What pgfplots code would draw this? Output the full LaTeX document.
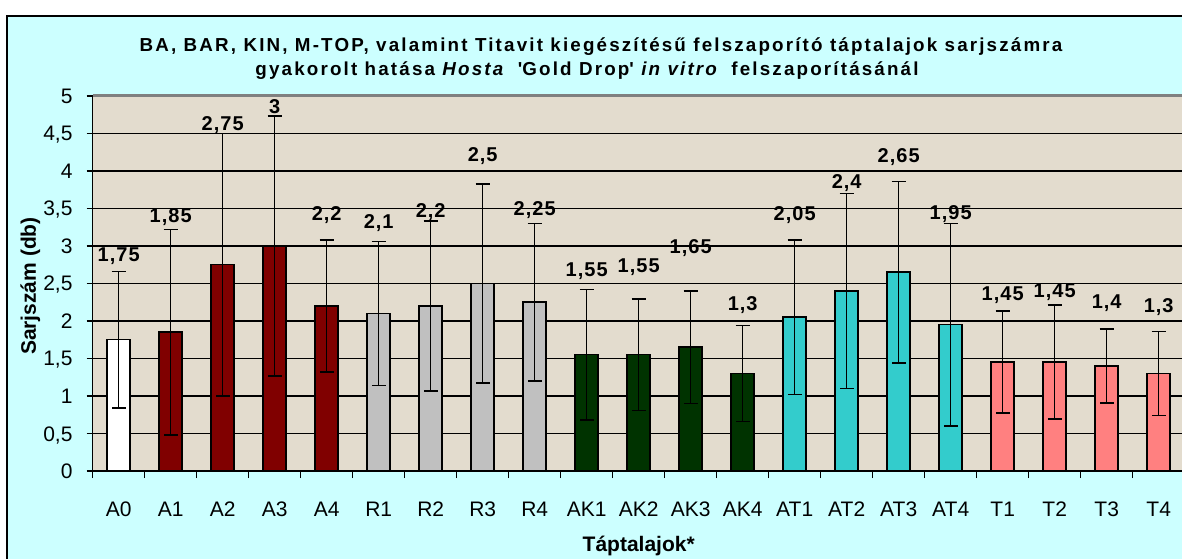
\documentclass[border=0pt]{standalone}
\usepackage{pgfplots}
\usepackage{pgfplotstable}
\pgfplotsset{compat=1.18}
\usepackage{fontspec}
\setmainfont{Liberation Sans}
\newfontfamily\titlefont{Liberation Sans}[LetterSpace=11.5]
\newfontfamily\labfont{Liberation Sans}[LetterSpace=5]
\definecolor{bgcyan}{HTML}{CCFFFF}
\definecolor{plotbg}{HTML}{E3DCCE}
\definecolor{cA}{HTML}{800000}
\definecolor{cR}{HTML}{C0C0C0}
\definecolor{cAK}{HTML}{003300}
\definecolor{cAT}{HTML}{33CCCC}
\definecolor{cT}{HTML}{FF8080}
\pgfplotstableread{
x ly lab
0 2.87 1,75
1 3.38 1,85
2 4.61 2,75
3 4.86 3
4 3.41 2,2
5 3.30 2,1
6 3.45 2,2
7 4.20 2,5
8 3.48 2,25
9 2.66 1,55
10 2.72 1,55
11 2.97 1,65
12 2.21 1,3
13 3.41 2,05
14 3.84 2,4
15 4.19 2,65
16 3.43 1,95
17 2.34 1,45
18 2.39 1,45
19 2.24 1,4
20 2.19 1,3
}\labeltable
\begin{document}
\begin{tikzpicture}
\useasboundingbox (0,0) rectangle (1182bp,559bp);
\clip (0,0) rectangle (1182bp,559bp);
\fill[white] (0,0) rectangle (1182bp,559bp);
\filldraw[fill=bgcyan, draw=black, line width=2.2bp] (7bp,-20bp) rectangle (1215bp,543bp);
\node[anchor=base, font=\titlefont\fontsize{18.8bp}{22bp}\selectfont\bfseries] at (601bp,507bp)
  {BA, BAR, KIN, M-TOP, valamint Titavit kiegészítésű felszaporító táptalajok sarjszámra};
\node[anchor=base, font=\titlefont\fontsize{18.8bp}{22bp}\selectfont\bfseries] at (587bp,483bp)
  {gyakorolt hatása \textit{Hosta}\hspace{5bp} \textquotesingle Gold Drop\textquotesingle{} \textit{in vitro}\hspace{5bp} felszaporításánál};
\begin{axis}[
  at={(92.7bp,88bp)}, anchor=south west,
  scale only axis, width=1092bp, height=375bp,
  xmin=-0.5, xmax=20.5, ymin=0, ymax=5,
  axis background/.style={fill=plotbg},
  ybar, bar width=23bp,
  axis line style={black, line width=1.5bp},
  axis x line*=bottom, axis y line*=left,
  tick align=outside,
  ymajorgrids, grid style={black, line width=1.5bp},
  ytick={0,0.5,...,4.5},
  extra y ticks={5}, extra y tick labels={5}, extra y tick style={grid=none},
  /pgf/number format/use comma,
  /pgf/number format/assume math mode=true,
  yticklabel style={anchor=base east, inner sep=0pt, xshift=-14bp, yshift=-7.5bp,
     font=\fontsize{21bp}{25bp}\selectfont},
  ytick style={black, line width=1.5bp}, major tick length=6bp,
  xtick={0,...,20},
  xticklabels={A0,A1,A2,A3,A4,R1,R2,R3,R4,AK1,AK2,AK3,AK4,AT1,AT2,AT3,AT4,T1,T2,T3,T4},
  xtick style={draw=none},
  xticklabel style={anchor=base, inner sep=0pt, yshift=-39bp, font=\fontsize{21bp}{25bp}\selectfont},
  extra x ticks={-0.5,0.5,...,20.5}, extra x tick labels={},
  extra x tick style={grid=none, xtick style={draw=black, line width=1.5bp}, major tick length=7bp},
  xlabel={Táptalajok*},
  xlabel style={at={(axis description cs:0.5,-0.2147)}, anchor=base, inner sep=0pt,
     font=\fontsize{21bp}{25bp}\selectfont\bfseries},
  ylabel={Sarjszám (db)},
  ylabel style={at={(axis description cs:-0.057,0.493)}, anchor=center, inner sep=0pt,
     font=\fontsize{21bp}{25bp}\selectfont\bfseries},
  error bars/y dir=both, error bars/y explicit,
  error bars/error mark=-,
  error bars/error bar style={black, line width=1.6bp},
  error bars/error mark options={rotate=90, black, line width=1.6bp, mark size=7bp},
  clip=false,
]
\addplot[bar shift=0pt, fill=white, draw=black, line width=1.5bp]
  coordinates {(0,1.75) +- (0,0.91)};
\addplot[bar shift=0pt, fill=cA, draw=black, line width=1.5bp]
  coordinates {(1,1.85) +- (0,1.37) (2,2.75) +- (0,1.75) (3,3) +- (0,1.73) (4,2.2) +- (0,0.88)};
\addplot[bar shift=0pt, fill=cR, draw=black, line width=1.5bp]
  coordinates {(5,2.1) +- (0,0.96) (6,2.2) +- (0,1.13) (7,2.5) +- (0,1.33) (8,2.25) +- (0,1.05)};
\addplot[bar shift=0pt, fill=cAK, draw=black, line width=1.5bp]
  coordinates {(9,1.55) +- (0,0.87) (10,1.55) +- (0,0.745) (11,1.65) +- (0,0.75) (12,1.3) +- (0,0.64)};
\addplot[bar shift=0pt, fill=cAT, draw=black, line width=1.5bp]
  coordinates {(13,2.05) +- (0,1.03) (14,2.4) +- (0,1.30) (15,2.65) +- (0,1.21) (16,1.95) +- (0,1.35)};
\addplot[bar shift=0pt, fill=cT, draw=black, line width=1.5bp]
  coordinates {(17,1.45) +- (0,0.68) (18,1.45) +- (0,0.76) (19,1.4) +- (0,0.49) (20,1.3) +- (0,0.56)};
\addplot[sharp plot, draw=none, mark=none, nodes near coords, point meta=explicit symbolic,
  every node near coord/.append style={anchor=center, inner sep=0pt,
     font=\labfont\fontsize{20bp}{24bp}\selectfont\bfseries}]
  table[x=x, y=ly, meta=lab] {\labeltable};
\draw[gray, line width=3bp] (axis cs:-0.5,5) -- (axis cs:20.5,5);
\end{axis}
\end{tikzpicture}
\end{document}
